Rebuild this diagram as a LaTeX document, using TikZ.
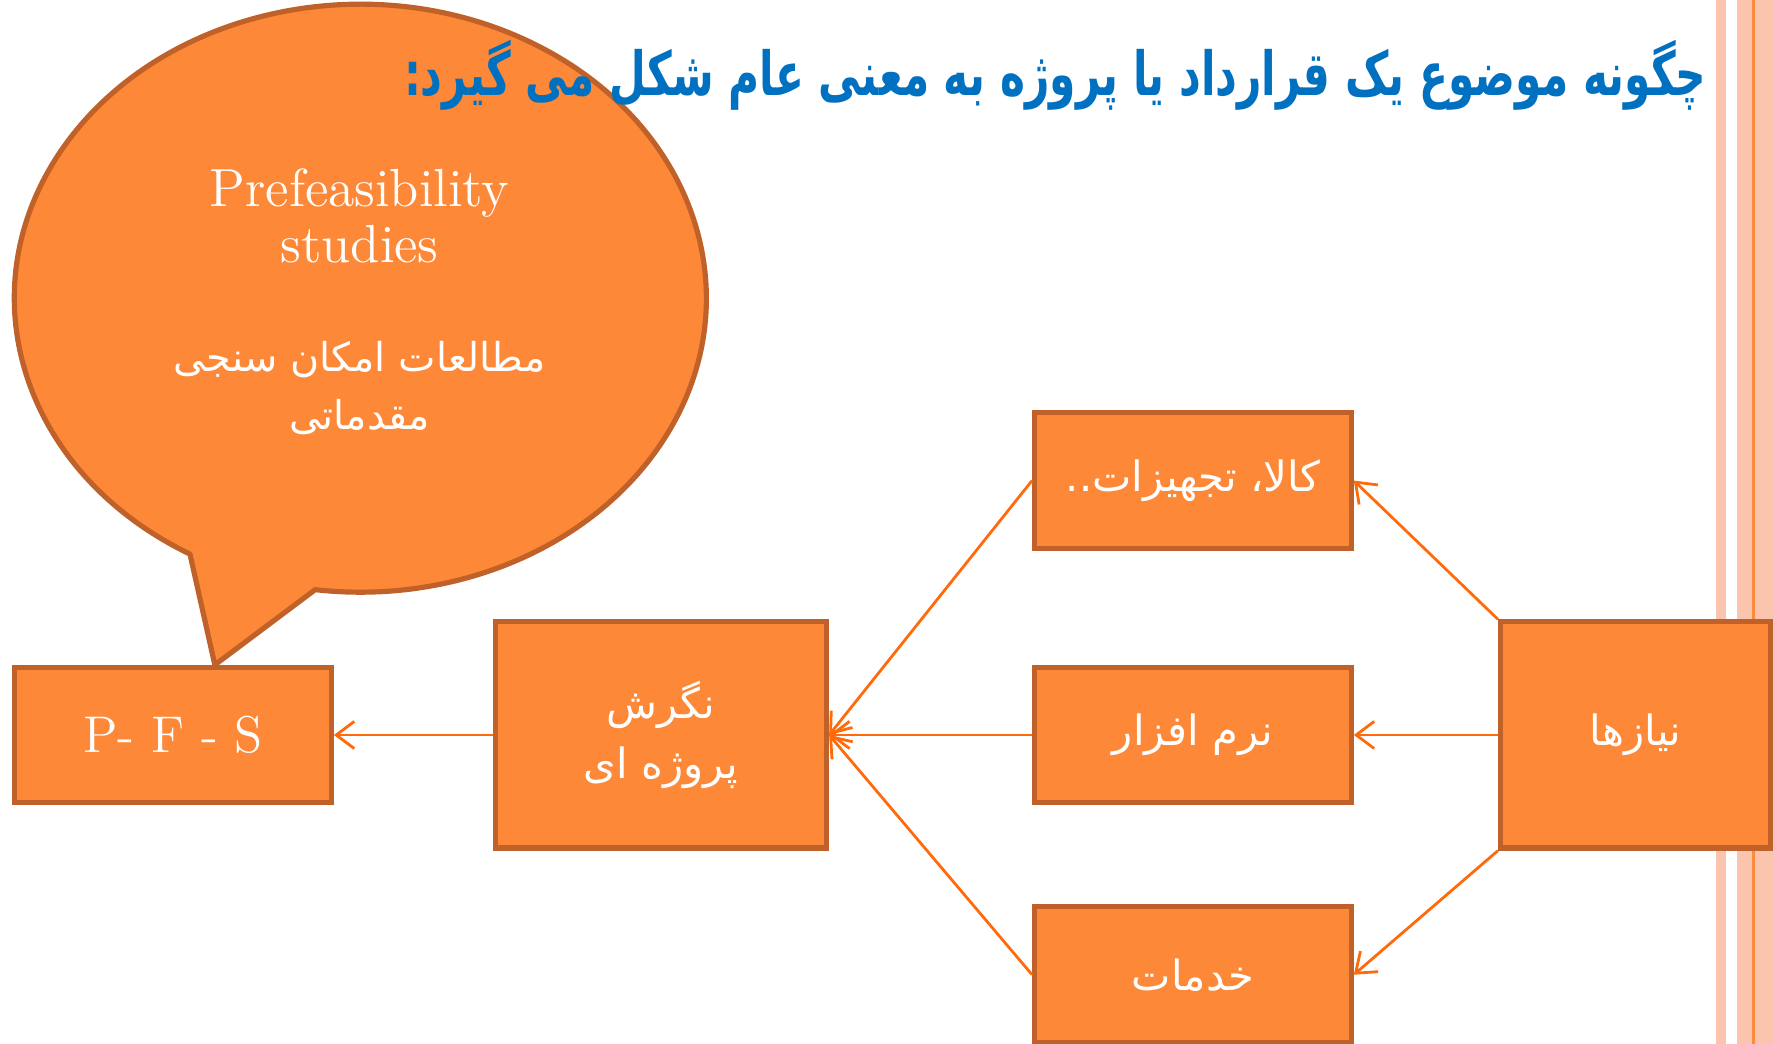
\documentclass[tikz,border=0pt]{standalone}
\usepackage{fontspec}
\usepackage{graphicx}
\usepackage{tikz}
\usetikzlibrary{arrows.meta,arrows}
\TeXXeTstate=1
\newfontfamily\arabicfont[Script=Arabic]{DejaVu Sans}
\definecolor{boxfill}{HTML}{FD8838}
\definecolor{boxline}{HTML}{BF6128}
\definecolor{arrowline}{HTML}{FF6A0A}
\definecolor{titleblue}{HTML}{0070C0}
\definecolor{stripe}{HTML}{FAC4AF}
\definecolor{stripeline}{HTML}{F98B3D}
\tikzset{
  box/.style={draw=boxline, fill=boxfill, line width=1.3pt, text=white, align=center,
    inner sep=0pt, minimum width=2.8cm, minimum height=1.2cm, font=\arabicfont\fontsize{10.5}{15}\selectfont},
  need/.style={draw=arrowline, line width=0.7pt, -{Straight Barb[length=1.6mm,width=2.4mm]}},
}
\begin{document}
\begin{tikzpicture}
    \useasboundingbox (0, 0) rectangle (15.68, 9.23);
    % Page Stripes
    \fill[stripe] (15.18, 0) rectangle (15.26, 9.23);
    \fill[stripe] (15.36, 0) rectangle (15.68, 9.23);
    \fill[stripeline] (15.49, 0) rectangle (15.52, 9.23);
    % Speech Bubble
    \coordinate (tip) at (1.90, 3.35);
    \draw[ boxline, fill=boxfill, line width=1.3pt, line join=round] (tip) -- (1.68, 4.33)
        arc[start angle=240.5, end angle=-97.5, x radius=3.06, y radius=2.60] -- cycle;
    \node[ text=white, align=center, font=\fontsize{13.5}{14.2}\selectfont] (pfstext) at (3.18, 7.32)
        {Prefeasibility\\studies};
    \node[ text=white, align=center, font=\arabicfont\fontsize{10}{14.5}\selectfont] (pfsfa) at (3.18, 5.80)
        {\beginR مطالعات امکان سنجی\endR\\\beginR مقدماتی\endR};
    % Title
    \node[ anchor=east, inner sep=0pt, text=titleblue, font=\arabicfont\bfseries\fontsize{20}{24}\selectfont] (title) at (15.10, 8.56)
        {\resizebox*{11.52cm}{0.62cm}{\beginR چگونه موضوع یک قرارداد یا پروژه به معنی عام شکل می گیرد:\endR}};
    % Boxes
    \node[ box, font=\fontsize{13}{16}\selectfont] (pfs) at (1.53, 2.73) {P- F - S};
    \node[ box, minimum width=2.93cm, minimum height=2cm] (nagaresh) at (5.845, 2.73)
        {\beginR نگرش\endR\\\beginR پروژه ای\endR};
    \node[ box] (kala) at (10.55, 4.98) {\beginR کالا، تجهیزات..\endR};
    \node[ box] (narm) at (10.55, 2.73) {\beginR نرم افزار\endR};
    \node[ box] (khadamat) at (10.55, 0.61) {\beginR خدمات\endR};
    \node[ box, minimum width=2.39cm, minimum height=2cm] (niaz) at (14.465, 2.73) {\beginR نیازها\endR};
    % Needs Edges
    \draw[ need] (niaz.north west) -- (kala.east);
    \draw[ need] (niaz.west) -- (narm.east);
    \draw[ need] (niaz.south west) -- (khadamat.east);
    % Project Edges
    \draw[ need] (kala.west) -- (nagaresh.east);
    \draw[ need] (narm.west) -- (nagaresh.east);
    \draw[ need] (khadamat.west) -- (nagaresh.east);
    \draw[ need] (nagaresh.west) -- (pfs.east);
\end{tikzpicture}
\end{document}
